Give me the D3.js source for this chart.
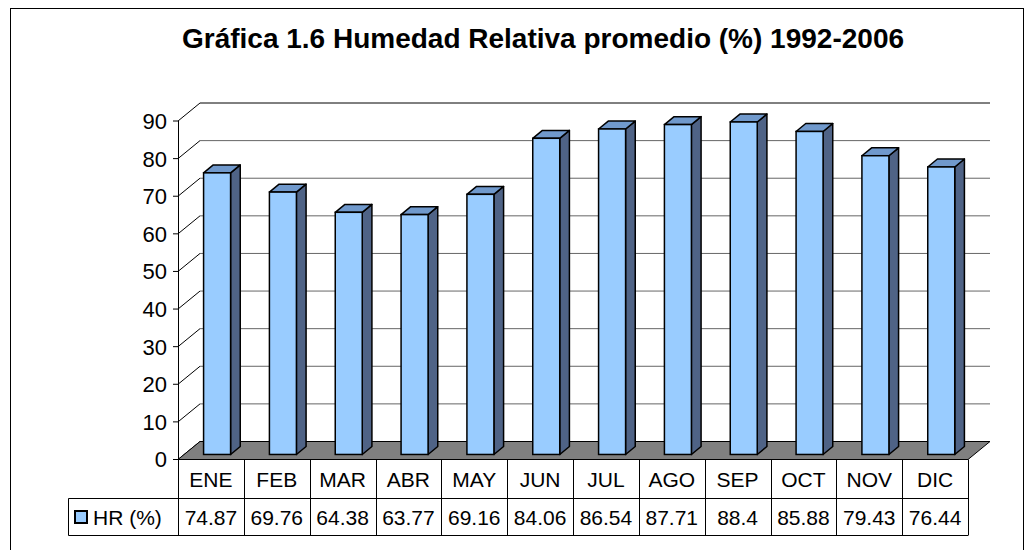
<!DOCTYPE html>
<html>
<head>
<meta charset="utf-8">
<script src="https://cdn.jsdelivr.net/npm/d3@7"></script>
<style>
  body { margin: 0; background: #fff; }
  svg { display: block; font-family: "Liberation Sans", Arial, sans-serif; }
</style>
</head>
<body>
<div id="chart"></div>
<script>
// Humedad relativa chart data
const months = ['ENE', 'FEB', 'MAR', 'ABR', 'MAY', 'JUN', 'JUL', 'AGO', 'SEP', 'OCT', 'NOV', 'DIC'];
const hrValues = [74.87, 69.76, 64.38, 63.77, 69.16, 84.06, 86.54, 87.71, 88.4, 85.88, 79.43, 76.44];
const hrLabels = ['74.87', '69.76', '64.38', '63.77', '69.16', '84.06', '86.54', '87.71', '88.4', '85.88', '79.43', '76.44'];
const yTicks = [0, 10, 20, 30, 40, 50, 60, 70, 80, 90];
const seriesName = 'HR (%)';
const title = 'Gráfica 1.6 Humedad Relativa promedio (%) 1992-2006';

const width = 1024, height = 550;

// 3d geometry
const depthX = 22, depthY = -18;
const barFront = 0.28, barBack = 0.72;

const svg = d3.select('#chart').append('svg')
  .attr('width', width)
  .attr('height', height);

// outer frame
svg.append('rect')
  .attr('x', 10.5).attr('y', 8.5)
  .attr('width', 1013).attr('height', 560)
  .attr('fill', 'none').attr('stroke', '#000');

svg.append('text')
  .attr('x', 543).attr('y', 48)
  .attr('text-anchor', 'middle')
  .style('font-size', '28px')
  .style('font-weight', 'bold')
  .text(title);

const x = d3.scaleBand().domain(months).range([178, 968]).padding(0);
const y = d3.scaleLinear().domain([0, 90]).range([459.5, 121]);

// back wall gridlines
svg.append('g').selectAll('line')
  .data(yTicks.filter(t => t > 0))
  .enter().append('line')
  .attr('x1', 178 + depthX).attr('x2', 968 + depthX)
  .attr('y1', d => y(d) + depthY).attr('y2', d => y(d) + depthY)
  .attr('stroke', d => d === 90 ? '#000' : '#666')
  .attr('stroke-width', 1);

// side wall diagonals
svg.append('g').selectAll('line')
  .data(yTicks)
  .enter().append('line')
  .attr('x1', 178).attr('x2', 178 + depthX)
  .attr('y1', d => y(d)).attr('y2', d => y(d) + depthY)
  .attr('stroke', '#000').attr('stroke-width', 1);

// floor
const fl = 178, fr = 968, fy = y(0);
svg.append('path')
  .attr('d', `M${fl},${fy}L${fr},${fy}L${fr + depthX},${fy + depthY}L${fl + depthX},${fy + depthY}Z`)
  .attr('fill', '#808080')
  .attr('stroke', '#000')
  .attr('stroke-width', 1);

// bars
const bw = x.step() * 0.41;
const bdx = (barBack - barFront) * depthX, bdy = (barBack - barFront) * depthY;
const bars = svg.append('g').selectAll('g')
  .data(months.map((m, i) => ({ m, v: hrValues[i] })))
  .enter().append('g');

bars.each(function(d) {
  const g = d3.select(this);
  const xl = x(d.m) + x.step() / 2 - bw / 2 + barFront * depthX;
  const xr = xl + bw;
  const yb = y(0) + barFront * depthY;
  const yt = y(d.v) + barFront * depthY;
  // side
  g.append('path')
    .attr('d', `M${xr},${yt}L${xr + bdx},${yt + bdy}L${xr + bdx},${yb + bdy}L${xr},${yb}Z`)
    .attr('fill', '#4f6386').attr('stroke', '#000').attr('stroke-width', 1.5)
    .attr('stroke-linejoin', 'round');
  // top
  g.append('path')
    .attr('d', `M${xl},${yt}L${xl + bdx},${yt + bdy}L${xr + bdx},${yt + bdy}L${xr},${yt}Z`)
    .attr('fill', '#7099cc').attr('stroke', '#000').attr('stroke-width', 1.5)
    .attr('stroke-linejoin', 'round');
  // front
  g.append('rect')
    .attr('x', xl).attr('y', yt)
    .attr('width', bw).attr('height', yb - yt)
    .attr('fill', '#99ccff').attr('stroke', '#000').attr('stroke-width', 1.5);
});

// y axis
const yAxis = svg.append('g');
yAxis.append('line')
  .attr('x1', 178.5).attr('x2', 178.5)
  .attr('y1', y(90)).attr('y2', y(0))
  .attr('stroke', '#000');
yAxis.selectAll('.tick')
  .data(yTicks)
  .enter().append('line')
  .attr('x1', 173).attr('x2', 178)
  .attr('y1', d => y(d)).attr('y2', d => y(d))
  .attr('stroke', '#000');
yAxis.selectAll('text')
  .data(yTicks)
  .enter().append('text')
  .attr('x', 167).attr('y', d => y(d))
  .attr('dy', '0.36em')
  .attr('text-anchor', 'end')
  .style('font-size', '22px')
  .text(d => d);

// data table
const rowTop = 459.5, rowMid = 498.5, rowBot = 535.5, legendLeft = 68.5;
const table = svg.append('g').attr('stroke', '#000').attr('stroke-width', 1);
table.append('line').attr('x1', legendLeft).attr('x2', 968).attr('y1', rowMid).attr('y2', rowMid);
table.append('line').attr('x1', legendLeft).attr('x2', 968).attr('y1', rowBot).attr('y2', rowBot);
table.append('line').attr('x1', legendLeft).attr('x2', legendLeft).attr('y1', rowMid).attr('y2', rowBot);
table.selectAll('.col')
  .data(months.concat(['end']))
  .enter().append('line')
  .attr('x1', (d, i) => Math.round(178 + i * x.step()) + 0.5)
  .attr('x2', (d, i) => Math.round(178 + i * x.step()) + 0.5)
  .attr('y1', rowTop).attr('y2', rowBot);

svg.append('g').selectAll('text')
  .data(months)
  .enter().append('text')
  .attr('x', d => x(d) + x.step() / 2)
  .attr('y', (rowTop + rowMid) / 2)
  .attr('dy', '0.36em')
  .attr('text-anchor', 'middle')
  .style('font-size', '21px')
  .text(d => d);

svg.append('g').selectAll('text')
  .data(hrLabels)
  .enter().append('text')
  .attr('x', (d, i) => x(months[i]) + x.step() / 2)
  .attr('y', (rowMid + rowBot) / 2)
  .attr('dy', '0.36em')
  .attr('text-anchor', 'middle')
  .style('font-size', '21px')
  .text(d => d);

// legend key
svg.append('rect')
  .attr('x', 75).attr('y', 511)
  .attr('width', 12).attr('height', 12)
  .attr('fill', '#99ccff').attr('stroke', '#000').attr('stroke-width', 2);
svg.append('text')
  .attr('x', 93).attr('y', (rowMid + rowBot) / 2)
  .attr('dy', '0.36em')
  .style('font-size', '21px')
  .text(seriesName);
</script>
</body>
</html>
